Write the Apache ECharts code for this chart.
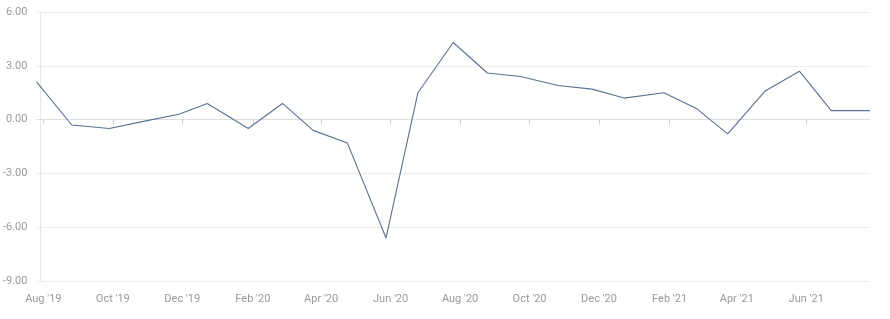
<!DOCTYPE html>
<html>
<head>
<meta charset="utf-8">
<script src="https://cdn.jsdelivr.net/npm/echarts@6/dist/echarts.min.js"></script>
<style>html,body{margin:0;padding:0;background:#fff}#c{width:890px;height:319px}</style>
</head>
<body>
<div id="c"></div>
<script>
const dates = ['2019-07-26','2019-08-26','2019-09-28','2019-10-28','2019-11-28','2019-12-23',
  '2020-01-28','2020-02-27','2020-03-25','2020-04-24','2020-05-28','2020-06-25','2020-07-26',
  '2020-08-25','2020-09-23','2020-10-26','2020-11-25','2020-12-23','2021-01-27','2021-02-25',
  '2021-03-24','2021-04-26','2021-05-26','2021-06-23','2021-07-27'];
const values = [2.1,-0.3,-0.5,-0.1,0.3,0.9,-0.5,0.9,-0.6,-1.3,-6.6,1.5,4.3,2.6,2.4,1.9,1.7,1.2,1.5,0.6,-0.8,1.6,2.7,0.5,0.5];
const tickDates = ['2019-08-01','2019-10-01','2019-12-01','2020-02-01','2020-04-01','2020-06-01',
  '2020-08-01','2020-10-01','2020-12-01','2021-02-01','2021-04-01','2021-06-01'];
const tickLabels = ["Aug '19","Oct '19","Dec '19","Feb '20","Apr '20","Jun '20",
  "Aug '20","Oct '20","Dec '20","Feb '21","Apr '21","Jun '21"];
const yMin = -9, yMax = 6, yStep = 3;

// dates -> day numbers (UTC) for a linear date axis
function dayNum(s){ const p = s.split('-').map(Number); return Date.UTC(p[0], p[1]-1, p[2]) / 86400000; }
const tickDays = tickDates.map(dayNum);
const seriesData = dates.map((d,i)=>[dayNum(d), values[i]]);

const chart = echarts.init(document.getElementById('c'), null, {renderer:'canvas'});
chart.setOption({
  animation:false,
  grid:{left:36,right:20,top:12,bottom:38,containLabel:false},
  xAxis:{
    type:'value',
    min: dayNum(dates[0]), max: dayNum(dates[dates.length-1]),
    axisLine:{show:true,lineStyle:{color:'#dedede',width:1}},
    axisTick:{show:true,length:5,lineStyle:{color:'#d0d0d0'},customValues:tickDays},
    axisLabel:{
      customValues:tickDays,
      margin:13,color:'#9a9a9a',fontSize:11,fontFamily:'Roboto',
      formatter:function(v){ const i = tickDays.indexOf(v); return i>=0?tickLabels[i]:''; }
    },
    splitLine:{show:false}
  },
  yAxis:{
    type:'value',min:yMin,max:yMax,interval:yStep,offset:-4,
    axisLine:{show:true,lineStyle:{color:'#e6e6e6'}},
    axisTick:{show:false},
    axisLabel:{margin:13,color:'#9a9a9a',fontSize:11,fontFamily:'Roboto',formatter:v=>v.toFixed(2)},
    splitLine:{show:true,lineStyle:{color:'#ececec',width:1}}
  },
  series:[{
    type:'line',data:seriesData,showSymbol:false,symbol:'none',clip:false,
    lineStyle:{color:'#5d7091',width:1.1}
  }]
});
</script>
</body>
</html>
